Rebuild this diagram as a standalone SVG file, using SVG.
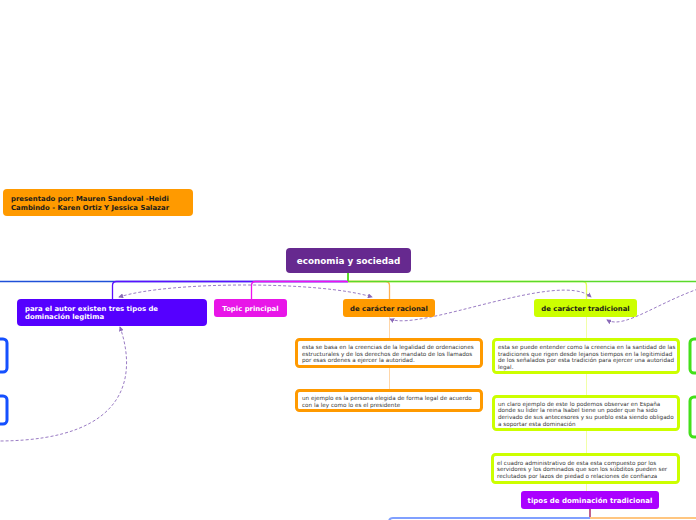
<svg xmlns="http://www.w3.org/2000/svg" width="696" height="520" viewBox="0 0 696 520">
<style>
.t{font-family:"DejaVu Sans",Verdana,sans-serif;}
.b{font-weight:bold;}
.w{fill:#ffffff;}
.d{fill:#1a1a1a;}
.s{font-size:5.65px;fill:#333333;}
.lbl{font-size:6.9px;}
.sub{fill:#ffffff;stroke-width:3;}
.rel{fill:none;stroke:#9a7cc4;stroke-width:1;stroke-dasharray:3,2;}
.br{fill:none;stroke-width:1.3;}
</style>
<defs>
<marker id="ah" viewBox="0 0 6 6" refX="5" refY="3" markerWidth="5" markerHeight="5" orient="auto-start-reverse" markerUnits="userSpaceOnUse">
<path d="M0,0 L6,3 L0,6 z" fill="#8a6ab8"/>
</marker>
</defs>
<rect width="696" height="520" fill="#ffffff"/>
<g id="connectors">
<line class="br" x1="0" y1="281.5" x2="348" y2="281.5" stroke="#1f50d8"/>
<path class="br" d="M348,281.5 H116.5 Q112.5,281.5 112.5,285.5 V299" stroke="#5a10ff"/>
<path class="br" d="M348,281.5 H255.5 Q251.5,281.5 251.5,285.5 V299" stroke="#ee11ee"/>
<path class="br" d="M348,281.5 H582.5 Q586.5,281.5 586.5,285.5 V299" stroke="#e4ff5a"/>
<path class="br" d="M348,281.5 H385.5 Q389.5,281.5 389.5,285.5 V299" stroke="#ffb050"/>
<line class="br" x1="348" y1="281.5" x2="696" y2="281.5" stroke="#5ada2a"/>
<line x1="348" y1="273" x2="348" y2="281" stroke="#5ada2a" stroke-width="2"/>
<line x1="389.5" y1="317" x2="389.5" y2="390" stroke="#ffd6a8" stroke-width="1"/>
<line x1="586.5" y1="317" x2="586.5" y2="491" stroke="#f2ffa8" stroke-width="1"/>
<line x1="590" y1="509" x2="590" y2="518" stroke="#c0608f" stroke-width="2"/>
<path d="M590,518 H393 Q389,518 389,522" fill="none" stroke="#80a0ff" stroke-width="2"/>
<line x1="590" y1="518" x2="696" y2="518" stroke="#ffc680" stroke-width="2"/>
<path class="rel" d="M119,297 C170,281 320,281 372,297" marker-start="url(#ah)" marker-end="url(#ah)"/>
<path class="rel" d="M390,319 C420,332 560,270 591,297" marker-start="url(#ah)" marker-end="url(#ah)"/>
<path class="rel" d="M607,320 C625,330 660,300 710,285" marker-start="url(#ah)"/>
<path class="rel" d="M120,327 C135,370 135,440 0,441" marker-start="url(#ah)"/>
</g>
<g id="n-edge-left">
<rect x="-20" y="339" width="27" height="33" rx="4" fill="#ffffff" stroke="#1550ff" stroke-width="3"/>
<rect x="-20" y="396" width="27" height="28" rx="4" fill="#ffffff" stroke="#1550ff" stroke-width="3"/>
</g>
<g id="n-edge-right">
<rect x="690" y="339" width="30" height="34" rx="4" fill="#ffffff" stroke="#44e01a" stroke-width="3"/>
<rect x="690" y="397" width="30" height="40" rx="4" fill="#ffffff" stroke="#44e01a" stroke-width="3"/>
</g>
<g id="n-presentado">
<rect x="3" y="189" width="190" height="27" rx="4" fill="#ff9a00"/>
<text class="t b d lbl" x="11" y="201">presentado por: Mauren Sandoval -Heidi</text>
<text class="t b d lbl" x="11" y="209.5">Cambindo - Karen Ortiz Y Jessica Salazar</text>
</g>
<g id="n-central">
<rect x="286" y="248" width="125" height="25" rx="4" fill="#66298f"/>
<text class="t b w" x="348.5" y="264" font-size="8.8" text-anchor="middle">economia y sociedad</text>
</g>
<g id="n-autor">
<rect x="17" y="299" width="190" height="27" rx="4" fill="#5500ff"/>
<text class="t b w lbl" x="25" y="311">para el autor existen tres tipos de</text>
<text class="t b w lbl" x="25" y="319">dominación legitima</text>
</g>
<g id="n-topic">
<rect x="214" y="299" width="73" height="18" rx="3" fill="#e815e8"/>
<text class="t b w lbl" x="250.5" y="310.5" text-anchor="middle">Topic principal</text>
</g>
<g id="n-racional">
<rect x="343" y="299" width="92" height="18" rx="3" fill="#ff9a00"/>
<text class="t b d lbl" x="389" y="310.5" text-anchor="middle">de carácter racional</text>
</g>
<g id="n-tradicional">
<rect x="534" y="299" width="103" height="18" rx="3" fill="#ccff00"/>
<text class="t b d lbl" x="585.5" y="310.5" text-anchor="middle">de carácter tradicional</text>
</g>
<g id="n-rac1">
<rect class="sub" x="296.5" y="339.5" width="185" height="27" rx="3" stroke="#ff9a00"/>
<text class="t s" x="302" y="349">esta se basa en la creencias de la legalidad de ordenaciones</text>
<text class="t s" x="302" y="355.7">estructurales y de los derechos de mandato de los llamados</text>
<text class="t s" x="302" y="362.3">por esas ordenes a ejercer la autoridad.</text>
</g>
<g id="n-rac2">
<rect class="sub" x="296.5" y="390.5" width="185" height="20" rx="3" stroke="#ff9a00"/>
<text class="t s" x="302" y="400">un ejemplo es la persona elegida de forma legal de acuerdo</text>
<text class="t s" x="302" y="406.5">con la ley como lo es el presidente</text>
</g>
<g id="n-tra1">
<rect class="sub" x="493.5" y="339.5" width="185" height="33" rx="3" stroke="#ccff00"/>
<text class="t s" x="498" y="349">esta se puede entender como la creencia en la santidad de las</text>
<text class="t s" x="498" y="355.7">tradiciones que rigen desde lejanos tiempos en la legitimidad</text>
<text class="t s" x="498" y="362.3">de los señalados por esta tradición para ejercer una autoridad</text>
<text class="t s" x="498" y="369">legal.</text>
</g>
<g id="n-tra2">
<rect class="sub" x="493.5" y="396.5" width="185" height="33" rx="3" stroke="#ccff00"/>
<text class="t s" x="498" y="405.5">un claro ejemplo de este lo podemos observar en España</text>
<text class="t s" x="498" y="412.2">donde su lider la reina Isabel tiene un poder que ha sido</text>
<text class="t s" x="498" y="418.8">derivado de sus antecesores y su pueblo esta siendo obligado</text>
<text class="t s" x="498" y="425.5">a soportar esta dominación</text>
</g>
<g id="n-tra3">
<rect class="sub" x="492.5" y="454.5" width="186" height="28" rx="3" stroke="#ccff00"/>
<text class="t s" x="497" y="464.5">el cuadro administrativo de esta esta compuesto por los</text>
<text class="t s" x="497" y="471.2">servidores y los dominados que son los súbditos pueden ser</text>
<text class="t s" x="497" y="477.8">reclutados por lazos de piedad o relaciones de confianza</text>
</g>
<g id="n-tipos">
<rect x="521" y="491" width="138" height="18" rx="3" fill="#aa00ff"/>
<text class="t b w" x="590" y="502.5" font-size="7" text-anchor="middle">tipos de dominación tradicional</text>
</g>
</svg>
